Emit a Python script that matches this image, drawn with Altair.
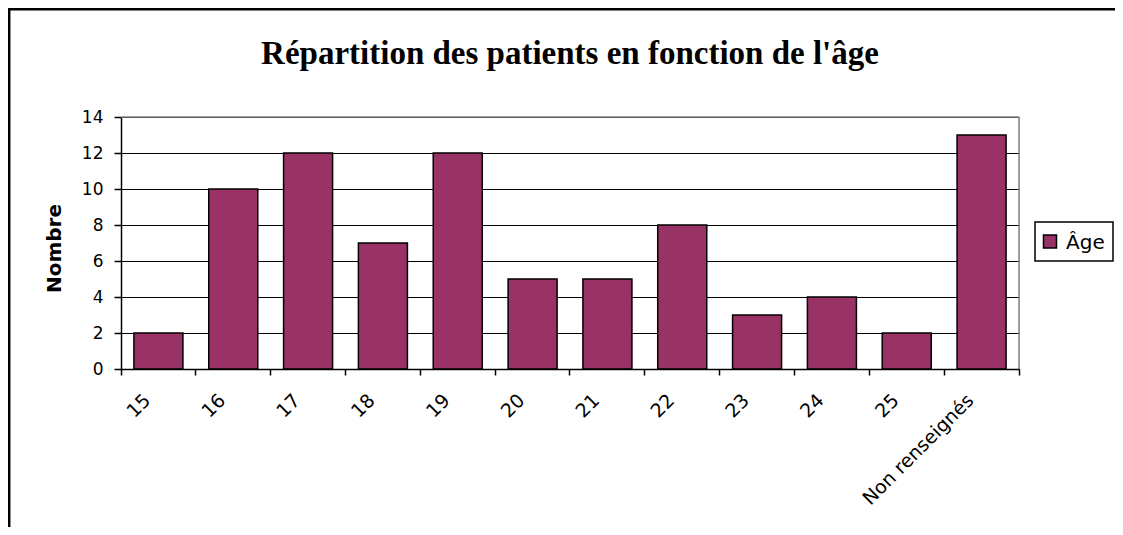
import altair as alt
import pandas as pd

categories = ["15", "16", "17", "18", "19", "20", "21", "22", "23", "24", "25", "Non renseignés"]
values = [2, 10, 12, 7, 12, 5, 5, 8, 3, 4, 2, 13]
series_name = "Âge"
title_text = "Répartition des patients en fonction de l'âge"
y_title = "Nombre"
y_ticks = [0, 2, 4, 6, 8, 10, 12, 14]

df = pd.DataFrame({"cat": categories, "val": values, "serie": [series_name] * len(values)})
one = pd.DataFrame({"serie": [series_name], "t": [title_text]})

W, H = 898, 252
BAR = "#993366"
SANS = "DejaVu Sans"

x_enc = alt.X(
    "cat:N", sort=categories, title=None,
    scale=alt.Scale(paddingInner=0, paddingOuter=0),
    axis=alt.Axis(
        bandPosition=1, tickExtra=True, tickSize=6, tickColor="black", tickWidth=1.5,
        domainColor="black", domainWidth=1.5,
        labelAngle=-45, labelAlign="right", labelBaseline="middle",
        labelOffset=-11, labelPadding=22, labelFont=SANS, labelFontSize=19,
        labelColor="black", grid=False, zindex=1,
    ),
)

y_enc = alt.Y(
    "val:Q", title=y_title,
    scale=alt.Scale(domain=[0, 14], nice=False),
    axis=alt.Axis(
        values=y_ticks, tickSize=7, tickColor="black", tickWidth=1.5,
        domainColor="black", domainWidth=1.5,
        grid=True, gridColor="black", gridWidth=1.2,
        labelFont=SANS, labelFontSize=17, labelColor="black", labelPadding=11,
        titleFont=SANS, titleFontSize=20, titleFontWeight="bold", titleColor="black",
        titleX=-61, titleY=131, titleAngle=-90, titleBaseline="alphabetic", titleAlign="center",
        zindex=0,
    ),
)

bars = alt.Chart(df).mark_bar(
    width=alt.RelativeBandSize(0.655), stroke="black", strokeWidth=1.5
).encode(
    x=x_enc,
    y=y_enc,
    fill=alt.Fill("serie:N", scale=alt.Scale(domain=[series_name], range=[BAR]), legend=None),
)

# legend drawn as marks (box, swatch, label)
leg_box = alt.Chart(one).mark_rect(fill="white", stroke="black", strokeWidth=1.5).encode(
    x=alt.value(914), x2=alt.value(992), y=alt.value(105), y2=alt.value(144)
)
leg_sw = alt.Chart(one).mark_square(size=169, stroke="black", strokeWidth=1.5, opacity=1).encode(
    x=alt.value(929), y=alt.value(124.5),
    fill=alt.Fill("serie:N", scale=alt.Scale(domain=[series_name], range=[BAR]), legend=None),
)
leg_txt = alt.Chart(one).mark_text(
    font=SANS, fontSize=20, color="black", align="left", baseline="alphabetic"
).encode(text="serie:N", x=alt.value(945), y=alt.value(132))

top_rule = alt.Chart(one).mark_rule(color="#808080", strokeWidth=1.5).encode(
    x=alt.value(0), x2=alt.value(W), y=alt.value(0)
)
right_rule = alt.Chart(one).mark_rule(color="#808080", strokeWidth=1.5).encode(
    x=alt.value(W), y=alt.value(0), y2=alt.value(H)
)

title = alt.Chart(one).mark_text(
    font="Liberation Serif", fontSize=33, fontWeight="bold", color="black",
    align="center", baseline="alphabetic",
).encode(text="t:N", x=alt.value(W / 2), y=alt.value(-53))

border_top = alt.Chart(one).mark_rule(color="black", strokeWidth=2.5).encode(
    x=alt.value(-113), x2=alt.value(1100), y=alt.value(-107.8)
)
border_left = alt.Chart(one).mark_rule(color="black", strokeWidth=2.5).encode(
    x=alt.value(-111.8), y=alt.value(-109), y2=alt.value(500)
)

chart = alt.layer(
    bars, top_rule, right_rule, title, border_top, border_left, leg_box, leg_sw, leg_txt
).properties(
    width=W, height=H,
    autosize=alt.AutoSizeParams(type="none"),
    padding={"left": 113, "top": 109, "right": 96, "bottom": 158},
).configure_view(stroke=None).configure(background="white")

chart.save("out.html", embed_options={"renderer": "svg", "actions": False})
